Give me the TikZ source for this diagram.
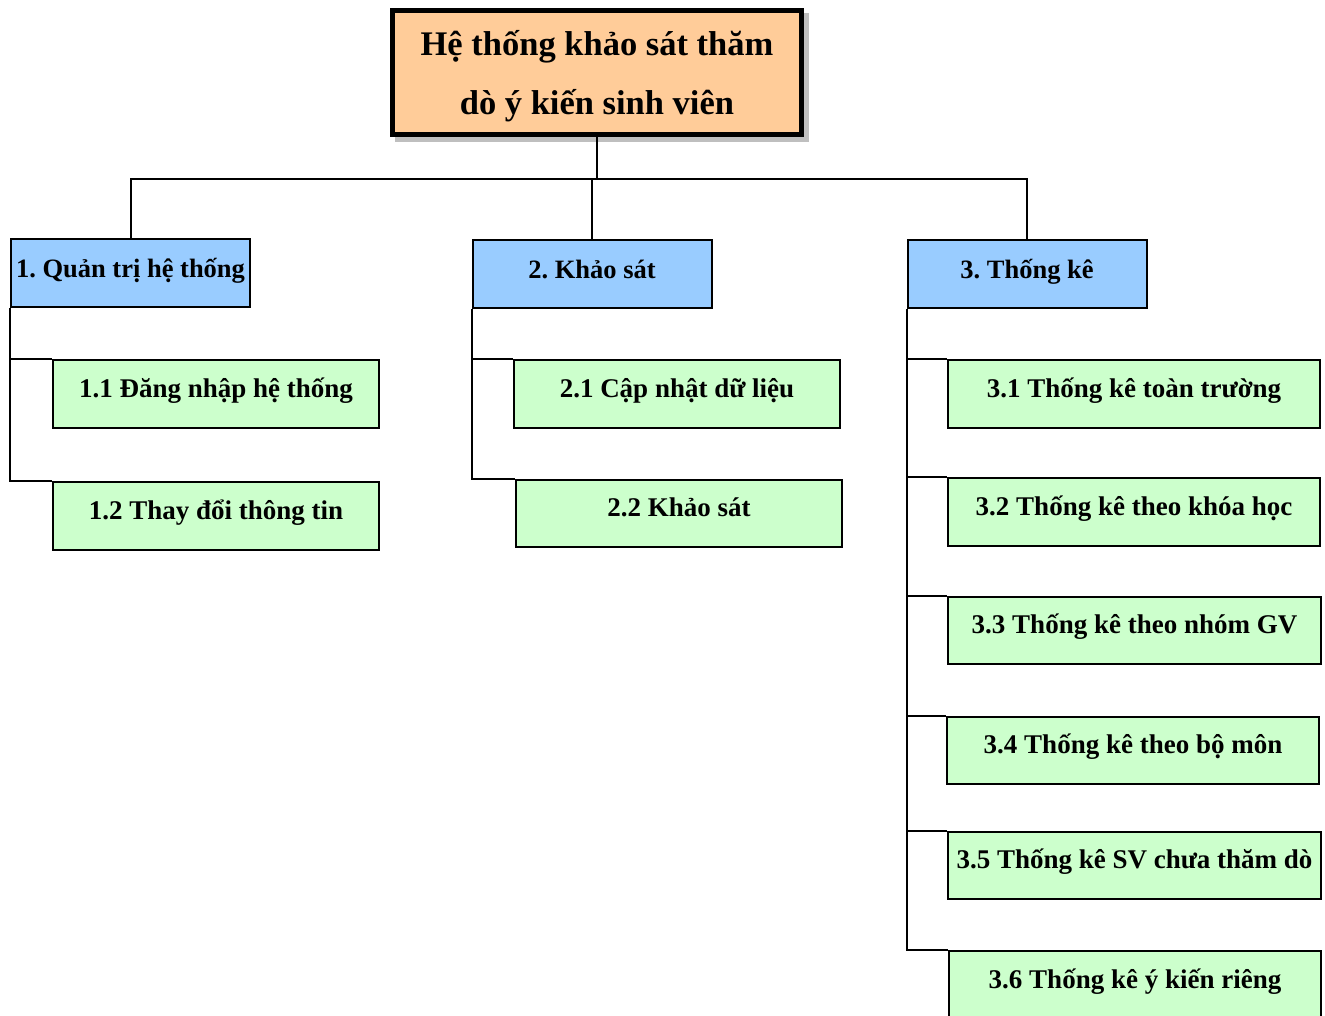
\documentclass[tikz,border=0pt]{standalone}
\usepackage{fontspec}
\setmainfont{Liberation Serif}
\frenchspacing
\definecolor{peach}{HTML}{FFCC99}
\definecolor{skyblue}{HTML}{99CCFF}
\definecolor{mint}{HTML}{CCFFCC}
\begin{document}
\begin{tikzpicture}[x=1pt,y=-1pt,
  link/.style={draw=black,line width=2pt},
  rootbox/.style={draw=black,line width=5pt,fill=peach,minimum width=409pt,minimum height=124pt,
    inner sep=0pt},
  titletext/.style={align=center,font=\fontsize{34.5}{59}\selectfont\bfseries,inner sep=0pt},
  shadowbox/.style={fill=black!25,draw=none},
  groupbox/.style={draw=black,line width=2pt,fill=skyblue,minimum width=239pt,minimum height=68pt,
    font=\fontsize{26.5}{30}\selectfont\bfseries,text height=18pt,text depth=8pt,inner sep=0pt},
  leafbox/.style={draw=black,line width=2pt,fill=mint,minimum height=68pt,
    font=\fontsize{27}{30}\selectfont\bfseries,text height=16pt,text depth=10pt,inner sep=0pt}]
\useasboundingbox (0,0) rectangle (1325,1016);
\clip (0,0) rectangle (1325,1016);
\fill[white] (0,0) rectangle (1325,1016);

% root
\fill[shadowbox] (395,13) rectangle (809,142);
\node[rootbox] (root) at (597,73) {};
\node[titletext] (title) at (597,76) {Hệ thống khảo sát thăm\\dò ý kiến sinh viên};

% first level
\node[groupbox] (g1) at (130.5,273) {1. Quản trị hệ thống};
\node[groupbox] (g2) at (592,274) {2. Khảo sát};
\node[groupbox] (g3) at (1027,274) {3. Thống kê};

% bus from the root to the groups
\coordinate (bus) at (597,179);
\draw[link] (root.south) -- (bus);
\draw[link] (g1.north) |- (bus) -| (g3.north);
\draw[link] (g2.north) -- (g2.north |- bus);

% leaves
\node[leafbox,minimum width=326pt] (c11) at (216,394) {1.1 Đăng nhập hệ thống};
\node[leafbox,minimum width=326pt] (c12) at (216,516) {1.2 Thay đổi thông tin};
\node[leafbox,minimum width=326pt] (c21) at (677,394) {2.1 Cập nhật dữ liệu};
\node[leafbox,minimum width=326pt,minimum height=67pt] (c22) at (679,513.5) {2.2 Khảo sát};
\node[leafbox,minimum width=372pt] (c31) at (1134,394) {3.1 Thống kê toàn trường};
\node[leafbox,minimum width=372pt] (c32) at (1134,512) {3.2 Thống kê theo khóa học};
\node[leafbox,minimum width=373pt,minimum height=67pt] (c33) at (1134.5,630.5) {3.3 Thống kê theo nhóm GV};
\node[leafbox,minimum width=372pt,minimum height=67pt] (c34) at (1133,750.5) {3.4 Thống kê theo bộ môn};
\node[leafbox,minimum width=373pt,minimum height=67pt] (c35) at (1134.5,865.5) {3.5 Thống kê SV chưa thăm dò};
\node[leafbox,minimum width=372pt] (c36) at (1135,985) {3.6 Thống kê ý kiến riêng};

% branch lines
\draw[link] (g1.south west) |- (c11.north west);
\draw[link] (g1.south west) |- (c12.north west);
\draw[link] (g2.south west) |- (c21.north west);
\draw[link] (g2.south west) |- (c22.north west);
\foreach \c in {c31,c32,c33,c34,c35,c36}
  \draw[link] (g3.south west) |- (\c.north west);
\end{tikzpicture}
\end{document}
